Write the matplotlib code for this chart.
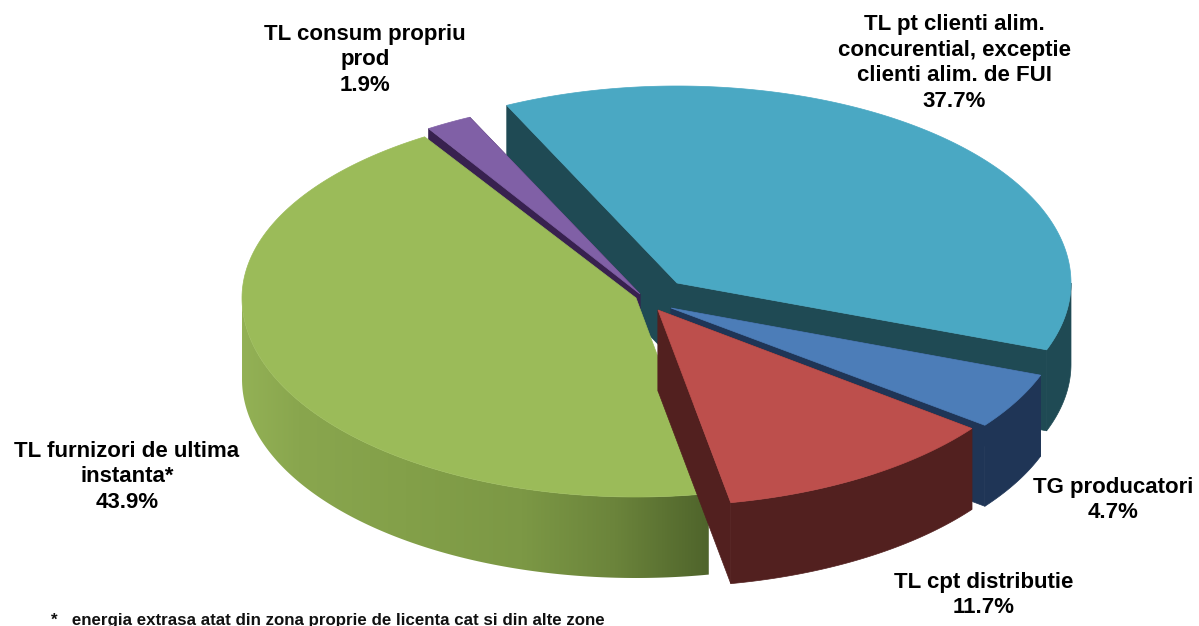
import numpy as np
import matplotlib
matplotlib.use("Agg")
import matplotlib.pyplot as plt
from matplotlib.patches import Polygon
from matplotlib.colors import LinearSegmentedColormap

plt.rcParams['font.family'] = ['Liberation Sans', 'DejaVu Sans']

# ---- data ----
categories = ["TL pt clienti alim.\nconcurential, exceptie\nclienti alim. de FUI",
              "TG producatori",
              "TL cpt distributie",
              "TL furnizori de ultima\ninstanta*",
              "TL consum propriu\nprod"]
values = [37.7, 4.7, 11.7, 43.9, 1.9]
footnote = "*   energia extrasa atat din zona proprie de licenta cat si din alte zone"

# ---- style ----
start_angle = 115.6
rx, depth = 394, 81
apex = [(677, 283), (671, 308), (658, 310), (636, 298), (640, 294)]
ry_back = [197, 196, 196, 191, 196]
ry_front = [193, 194, 196, 199, 196]
top_col = ["#4AA8C3", "#4C7DB8", "#BD4F4C", "#9BBB59", "#8060A6"]
side_col = ["#1F4A54", "#1F3556", "#52201F", None, "#38214F"]
label_xy = [(954, 63), (1113, 500), (984, 595), (127, 477), (365, 60)]
green_stops = [(0.0, "#93B155"), (0.12, "#89A64E"), (0.35, "#83A049"), (0.6, "#7C9845"),
               (0.8, "#6B843B"), (1.0, "#4F642B")]

fig = plt.figure(figsize=(11.99, 6.26), dpi=100)
ax = fig.add_axes([0, 0, 1, 1])
ax.set_xlim(0, 1199)
ax.set_ylim(626, 0)
ax.axis("off")


def rim(i, t, dz=0):
    c = apex[i]
    t = np.radians(np.atleast_1d(t))
    s = np.sin(t)
    ry = np.where(s > 0, ry_back[i], ry_front[i])
    return np.column_stack([c[0] + rx * np.cos(t), c[1] - ry * s + dz])


def arc(i, a, b, dz=0):
    return rim(i, np.linspace(a, b, 200), dz)


def draw_slice(i, a, b, z):
    c = apex[i]
    side = side_col[i]
    if side is not None:
        for t in (a, b):
            p = rim(i, t)[0]
            ax.add_patch(Polygon([c, p, p + [0, depth], (c[0], c[1] + depth)],
                                 closed=True, fc=side, ec=side, lw=0.5, zorder=z))
    lo, hi = max(b, -180), min(a, 0)
    if hi > lo:
        verts = np.vstack([arc(i, hi, lo), arc(i, lo, hi, depth)])
        if side is not None:
            ax.add_patch(Polygon(verts, closed=True, fc=side, ec=side, lw=0.5, zorder=z + 0.1))
        else:
            patch = Polygon(verts, closed=True, fc="none", ec="none", zorder=z + 0.1)
            ax.add_patch(patch)
            x0, x1 = verts[:, 0].min(), verts[:, 0].max()
            y0, y1 = verts[:, 1].min(), verts[:, 1].max()
            cmap = LinearSegmentedColormap.from_list("g", green_stops)
            im = ax.imshow(np.linspace(0, 1, 256)[None, :], cmap=cmap, aspect="auto",
                           extent=(x0, x1, y1, y0), zorder=z + 0.1)
            im.set_clip_path(patch)
    ax.add_patch(Polygon(np.vstack([[c], arc(i, a, b)]), closed=True, fc=top_col[i],
                         ec=top_col[i], lw=0.5, zorder=z + 0.2))


sweeps = np.array(values) / sum(values) * 360
starts = start_angle - np.concatenate([[0], np.cumsum(sweeps)[:-1]])
ends = starts - sweeps
for z, i in enumerate([0, 1, 4, 3, 2]):
    draw_slice(i, starts[i], ends[i], z + 1)

ax.set_xlim(0, 1199)
ax.set_ylim(626, 0)

for name, v, (x, y) in zip(categories, values, label_xy):
    ax.text(x, y, f"{name}\n{v:.1f}%", ha="center", va="center", fontsize=16.0,
            fontweight="bold", color="black", linespacing=1.29, zorder=20)

ax.text(51, 620, footnote, ha="left", va="center", fontsize=12.2, fontweight="bold",
        color="#111111", zorder=20)

fig.savefig("out.png", dpi=100, facecolor="white")
